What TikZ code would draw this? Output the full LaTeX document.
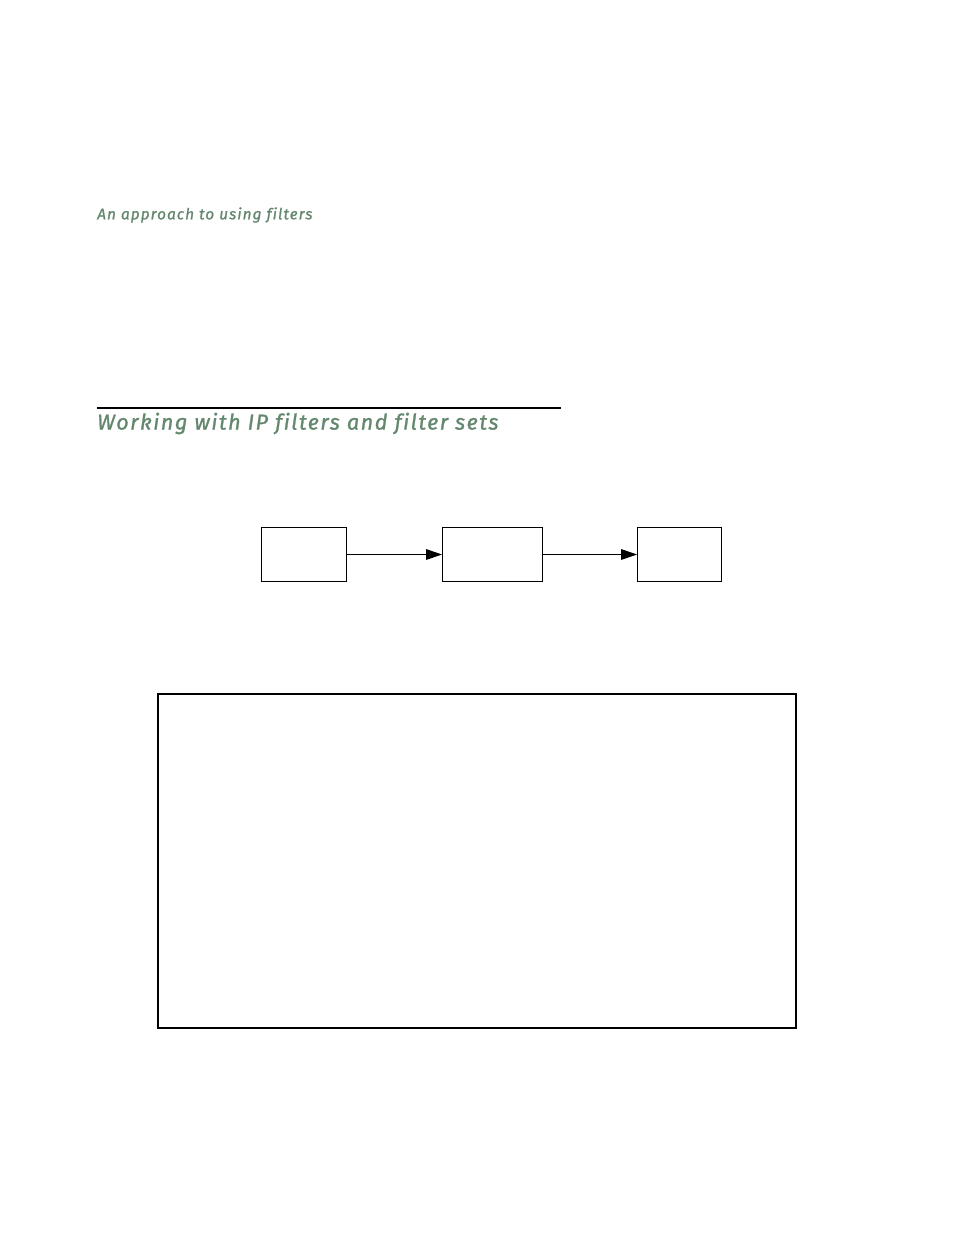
\documentclass[tikz,border=0pt]{standalone}
\usepackage{fontspec}
\setmainfont{Fira Sans}
\newfontfamily\headfont{Fira Sans}[LetterSpace=7, Ligatures=NoCommon, FakeBold=1.2]
\usetikzlibrary{arrows.meta}
\definecolor{headgreen}{RGB}{100,136,110}
\begin{document}
\begin{tikzpicture}[x=0.75pt,y=0.75pt,yscale=-1,xscale=1]
\useasboundingbox (0,0) rectangle (954,1235);
\tikzset{
  flowbox/.style={draw, line width=0.75pt, anchor=north west, inner sep=0pt},
  flowarrow/.style={line width=0.75pt, -{Triangle[length=12pt,width=8pt]}},
  headtext/.style={anchor=west, inner sep=0pt, text=headgreen}
}

% Text Node
\node [headtext, font=\headfont\itshape\fontsize{11.5}{13}\selectfont] (runhead) at (97,215) {An approach to using filters};

%Straight Lines
\draw [line width=1.5pt] (97,408) -- (561,408) ;
% Text Node
\node [headtext, font=\headfont\itshape\fontsize{16.2}{19}\selectfont] (title) at (97,423.5) {Working with IP filters and filter sets};

%Shape: Rectangle
\node [flowbox, minimum width=63.75pt, minimum height=40.5pt] (boxa) at (261,527) {};
%Shape: Rectangle
\node [flowbox, minimum width=75pt, minimum height=40.5pt] (boxb) at (442,527) {};
%Shape: Rectangle
\node [flowbox, minimum width=63pt, minimum height=40.5pt] (boxc) at (637,527) {};
%Straight Lines
\draw [flowarrow] (boxa.east) -- (boxb.west) ;
\draw [flowarrow] (boxb.east) -- (boxc.west) ;

%Shape: Rectangle
\draw [line width=1.5pt] (158,694) rectangle (796,1028) ;

\end{tikzpicture}
\end{document}
